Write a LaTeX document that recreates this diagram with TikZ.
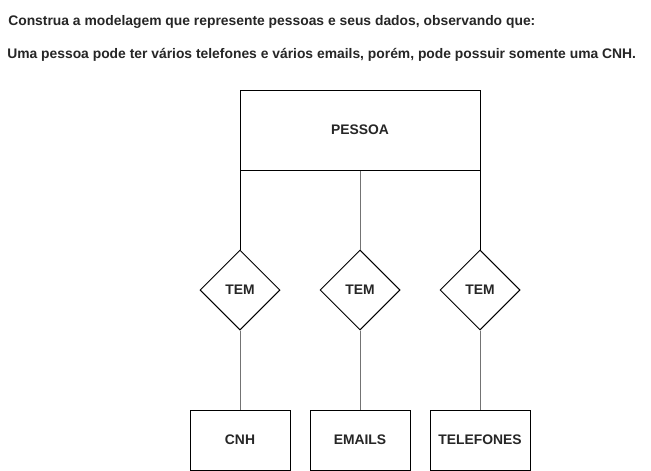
\documentclass[tikz,border=0pt]{standalone}
\usepackage{fontspec}
\setmainfont{Liberation Sans}
\usetikzlibrary{shapes.geometric}
\begin{document}
\begin{tikzpicture}[x=0.75pt,y=-0.75pt,
  every node/.style={font=\fontsize{10.4}{12}\selectfont\bfseries, text=black!85},
  entity/.style={draw=black, line width=0.75pt, minimum width=75pt, minimum height=45pt, inner sep=0pt},
  relation/.style={draw=black, line width=0.75pt, diamond, aspect=1, minimum width=60pt, minimum height=60pt, inner sep=0pt},
  conn/.style={draw=black!55, line width=0.75pt},
  connd/.style={draw=black, line width=0.75pt}]
\useasboundingbox (0,0) rectangle (651,471);
\fill[white] (0,0) rectangle (651,471);
\node[anchor=west, inner sep=0pt] (t1) at (8,22) {Construa a modelagem que represente pessoas e seus dados, observando que:};
\node[anchor=west, inner sep=0pt] (t2) at (7,55) {Uma pessoa pode ter vários telefones e vários emails, porém, pode possuir somente uma CNH.};
\node[entity, minimum width=180pt, minimum height=60pt] (pessoa) at (360,130) {PESSOA};
\node[relation] (r1) at (240,290) {TEM};
\node[relation] (r2) at (360,290) {TEM};
\node[relation] (r3) at (480,290) {TEM};
\node[entity] (cnh) at (240,440) {CNH};
\node[entity] (emails) at (360,440) {EMAILS};
\node[entity] (tel) at (480,440) {TELEFONES};
\draw[connd] (r1.north |- pessoa.south) -- (r1.north);
\draw[conn] (pessoa.south) -- (r2.north);
\draw[connd] (r3.north |- pessoa.south) -- (r3.north);
\draw[conn] (r1.south) -- (cnh.north);
\draw[conn] (r2.south) -- (emails.north);
\draw[conn] (r3.south) -- (tel.north);
\end{tikzpicture}
\end{document}
